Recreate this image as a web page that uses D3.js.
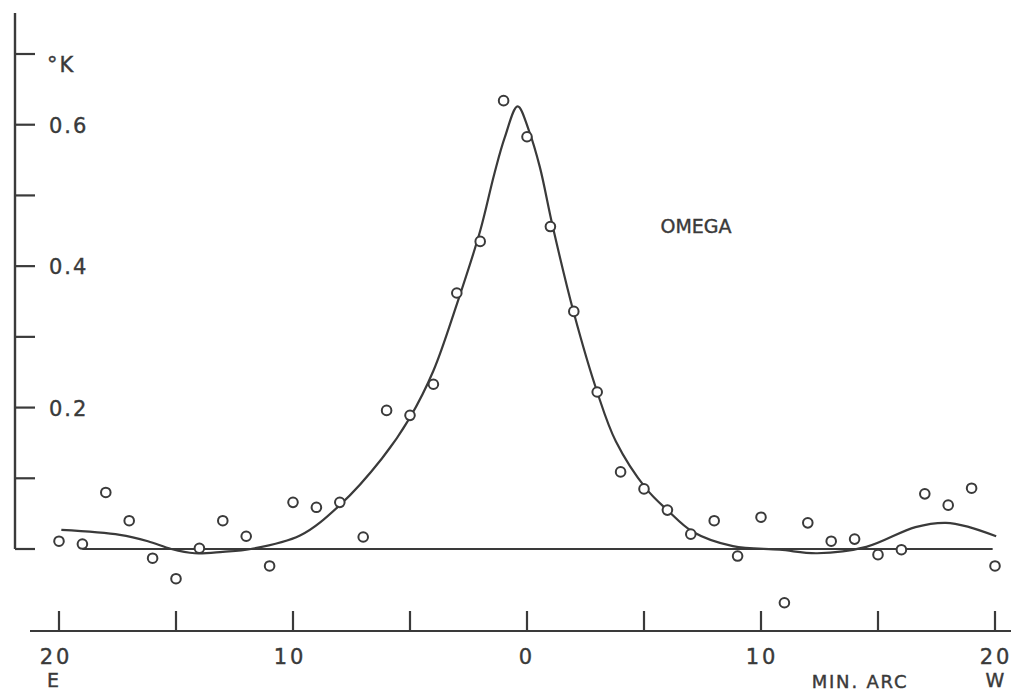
<!DOCTYPE html>
<html>
<head>
<meta charset="utf-8">
<script src="https://cdn.jsdelivr.net/npm/d3@7"></script>
<style>
  body { margin: 0; background: #fff; }
  svg { display: block; }
  text { font-family: "DejaVu Sans", sans-serif; fill: #3a3a3a; stroke: #3a3a3a; stroke-width: 0.4; }
</style>
</head>
<body>
<div class="chart"></div>
<script>
// observed points, one per minute of arc (E negative, W positive)
var minutes = d3.range(-20, 21);
var temps = [0.011, 0.007, 0.080, 0.040, -0.013, -0.042, 0.001, 0.040, 0.018, -0.024,
             0.066, 0.059, 0.066, 0.017, 0.196, 0.189, 0.233, 0.362, 0.435, 0.634,
             0.583, 0.456, 0.336, 0.222, 0.109, 0.085, 0.055, 0.021, 0.040, -0.010,
             0.045, -0.076, 0.037, 0.011, 0.014, -0.008, -0.001, 0.078, 0.062, 0.086,
             -0.024];

// hand drawn fit curve
var fitX = [-19.9, -17.4, -16.2, -15.2, -14.2, -13.0, -11.8, -9.7, -8.0, -6.2, -5.0, -4.0,
            -3.0, -2.0, -1.4, -0.95, -0.4, 0.1, 0.55, 1.1, 2.0, 3.0, 3.8, 5.1, 6.0, 7.1,
            8.8, 10.8, 12.4, 14.5, 16.6, 17.9, 18.9, 20.05];
var fitY = [0.027, 0.020, 0.011, 0.000, -0.006, -0.004, 0.000, 0.019, 0.062, 0.128, 0.186, 0.252,
            0.346, 0.45, 0.53, 0.582, 0.626, 0.59, 0.54, 0.456, 0.334, 0.222, 0.152, 0.085, 0.055, 0.024,
            0.004, -0.001, -0.006, 0.003, 0.031, 0.037, 0.031, 0.018];

var xTicks = [-20, -15, -10, -5, 0, 5, 10, 15, 20];
var xLabels = {"-20": "20", "-10": "10", "0": "0", "10": "10", "20": "20"};
var yTicks = [0, 0.1, 0.2, 0.3, 0.4, 0.5, 0.6, 0.7];
var yLabels = {"0.2": "0.2", "0.4": "0.4", "0.6": "0.6"};

var ink = "#3a3a3a",
    width = 1011,
    height = 694;

var svg = d3.select('.chart').append('svg')
    .attr('width', width)
    .attr('height', height);

var x = d3.scaleLinear().domain([-20, 20]).range([59, 995]),
    y = d3.scaleLinear().domain([0, 0.7]).range([549, 54]);

// y axis
svg.append('line')
    .attr('x1', 15).attr('x2', 15)
    .attr('y1', 13).attr('y2', y(0))
    .attr('stroke', ink).attr('stroke-width', 2.4);

svg.selectAll('.ytick')
    .data(yTicks)
    .enter()
    .append('line')
    .attr('x1', 15).attr('x2', 35)
    .attr('y1', function(d){ return y(d) })
    .attr('y2', function(d){ return y(d) })
    .attr('stroke', ink).attr('stroke-width', 2.2);

svg.selectAll('.ylab')
    .data(yTicks.filter(function(d){ return yLabels[d] }))
    .enter()
    .append('text')
    .attr('x', 49)
    .attr('y', function(d){ return y(d) + 8 })
    .attr('font-size', 21)
    .attr('letter-spacing', 2)
    .text(function(d){ return yLabels[d] });

svg.append('text')
    .attr('x', 47).attr('y', y(0.7) + 18)
    .attr('font-size', 21)
    .attr('letter-spacing', 2)
    .text('°K');

// x axis
svg.append('line')
    .attr('x1', 30).attr('x2', width)
    .attr('y1', 631).attr('y2', 631)
    .attr('stroke', ink).attr('stroke-width', 2.2);

svg.selectAll('.xtick')
    .data(xTicks)
    .enter()
    .append('line')
    .attr('x1', function(d){ return x(d) })
    .attr('x2', function(d){ return x(d) })
    .attr('y1', 631).attr('y2', 611)
    .attr('stroke', ink).attr('stroke-width', 2.2);

svg.selectAll('.xlab')
    .data(xTicks.filter(function(d){ return xLabels[d] }))
    .enter()
    .append('text')
    .attr('x', function(d){ return x(d) + (d < 0 ? -3 : d > 0 ? 1 : 0) })
    .attr('y', 664)
    .attr('text-anchor', 'middle')
    .attr('font-size', 21)
    .attr('letter-spacing', 3)
    .text(function(d){ return xLabels[d] });

svg.append('text').attr('x', x(-20) - 6).attr('y', 687)
    .attr('text-anchor', 'middle').attr('font-size', 19).text('E');
svg.append('text').attr('x', x(20)).attr('y', 687)
    .attr('text-anchor', 'middle').attr('font-size', 19).text('W');
svg.append('text').attr('x', 860).attr('y', 688)
    .attr('text-anchor', 'middle').attr('font-size', 18).attr('letter-spacing', 1.8)
    .text('MIN. ARC');

svg.append('text').attr('x', 696).attr('y', 233)
    .attr('text-anchor', 'middle').attr('font-size', 19)
    .text('OMEGA');

// zero line
svg.append('line')
    .attr('x1', x(-19)).attr('x2', x(19.9))
    .attr('y1', y(0)).attr('y2', y(0))
    .attr('stroke', ink).attr('stroke-width', 2);

// fitted curve
var fit = fitX.map(function(d, i){ return [d, fitY[i]] });
svg.append('path')
    .datum(fit)
    .attr('d', d3.line()
        .x(function(d){ return x(d[0]) })
        .y(function(d){ return y(d[1]) })
        .curve(d3.curveCatmullRom.alpha(0.5)))
    .attr('fill', 'none')
    .attr('stroke', ink)
    .attr('stroke-width', 2.2);

// observations
svg.selectAll('circle')
    .data(minutes)
    .enter()
    .append('circle')
    .attr('cx', function(d){ return x(d) })
    .attr('cy', function(d, i){ return y(temps[i]) })
    .attr('r', 4.8)
    .attr('fill', '#fff')
    .attr('stroke', ink)
    .attr('stroke-width', 2);
</script>
</body>
</html>
